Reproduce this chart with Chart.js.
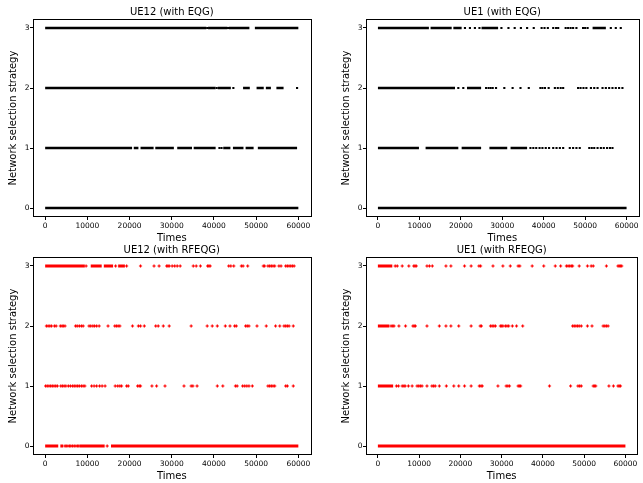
<!DOCTYPE html>
<html>
<head>
<meta charset="utf-8">
<script src="https://cdn.jsdelivr.net/npm/chart.js@4.4.1/dist/chart.umd.min.js"></script>
<style>
  body { margin: 0; background: #fff; overflow: hidden; width: 643px; height: 483px; }
  canvas { position: absolute; }
</style>
</head>
<body>
<canvas id="c1" width="321" height="246" style="left:0;top:0"></canvas>
<canvas id="c2" width="310" height="246" style="left:333px;top:0"></canvas>
<canvas id="c3" width="321" height="246" style="left:0;top:238px"></canvas>
<canvas id="c4" width="310" height="246" style="left:333px;top:238px"></canvas>
<script>
const xTicks = [0, 10000, 20000, 30000, 40000, 50000, 60000];
const yTicks = [0, 1, 2, 3];

// UE12 (with EQG) - dense stretches as [start, end], single points as x
const ue12EqgRuns0 = [[0, 60000]];
const ue12EqgRuns1 = [[0, 20600], [21000, 22100], [22600, 25700], [26100, 30500], [31300, 34800], [35200, 40400], [42200, 43900], [44500, 47000], [47500, 49400], [50400, 59700]];
const ue12EqgRuns2 = [[0, 40400], [40900, 44000], [46900, 48500], [50100, 51800], [52300, 53500], [54800, 56500]];
const ue12EqgRuns3 = [[0, 38200], [38600, 43200], [43500, 48400], [49700, 60000]];
const ue12EqgDots0 = [];
const ue12EqgDots1 = [41300, 41800];
const ue12EqgDots2 = [40650, 44600, 59700];
const ue12EqgDots3 = [38400, 43350];

// UE1 (with EQG)
const ue1EqgRuns0 = [[0, 60000]];
const ue1EqgRuns1 = [[0, 9900], [11500, 19400], [20200, 24900], [26900, 31200], [32000, 36000]];
const ue1EqgRuns2 = [[0, 18600], [21500, 24900]];
const ue1EqgRuns3 = [[0, 12300], [12700, 17800], [18200, 20200], [25000, 29000], [51800, 55000]];
const ue1EqgDots0 = [];
const ue1EqgDots1 = [36800, 37500, 38200, 39000, 39700, 40500, 41300, 42300, 43100, 43900, 44700, 46300, 47100, 47900, 48700, 51000, 51600, 52200, 53000, 53800, 54500, 55300, 56000, 56600];
const ue1EqgDots2 = [19400, 20600, 26100, 26700, 27200, 27700, 28500, 30500, 32500, 34400, 36400, 39200, 39700, 40300, 41200, 42700, 43400, 44100, 44700, 48300, 48900, 49600, 50300, 51400, 52200, 53000, 54200, 55000, 55800, 56600, 57400, 58200, 59000];
const ue1EqgDots3 = [21000, 22200, 23400, 24500, 29800, 31500, 33000, 34500, 36000, 37600, 39500, 40200, 41000, 42300, 43000, 43500, 45300, 45900, 46500, 47100, 47900, 49500, 50000, 50600, 56200, 57400, 58600];

// UE12 (with RFEQG)
const ue12RfeqgRuns0 = [[0, 3100], [3600, 4300], [8200, 14100], [15600, 60000]];
const ue12RfeqgRuns1 = [];
const ue12RfeqgRuns2 = [];
const ue12RfeqgRuns3 = [[0, 9400], [10800, 13400], [13900, 16100], [17300, 18900]];
const ue12RfeqgDots0 = [4700, 5000, 5400, 5800, 6100, 6500, 6900, 7300, 7700, 8000, 14700];
const ue12RfeqgDots1 = [100, 500, 900, 1300, 1700, 2100, 2500, 2900, 3700, 4100, 4500, 4900, 5500, 6000, 6500, 6900, 7300, 7700, 8100, 8600, 9000, 9400, 11000, 11600, 12200, 12900, 13500, 14200, 16600, 17200, 17700, 18100, 19300, 19700, 21900, 22300, 22600, 25300, 26400, 28400, 32900, 34600, 35000, 36000, 40800, 42100, 45100, 45500, 46800, 47300, 47800, 48300, 49100, 52800, 53200, 53600, 54000, 54400, 57000, 57400, 58800];
const ue12RfeqgDots2 = [300, 700, 1100, 1500, 2200, 2600, 3600, 4000, 4300, 4700, 7200, 7600, 8100, 8600, 9000, 10400, 10800, 11300, 11700, 12200, 12800, 14900, 16500, 16900, 17300, 17700, 20700, 22100, 22600, 23500, 26200, 26800, 28000, 29400, 34600, 38400, 39600, 40800, 42700, 43800, 44900, 45300, 47500, 47900, 48300, 50200, 52400, 54600, 55600, 56600, 57000, 57400, 57800, 58800];
const ue12RfeqgDots3 = [9700, 16700, 19300, 22600, 25800, 27000, 28800, 29100, 29400, 30100, 30700, 31300, 32000, 35100, 35800, 36800, 38500, 38800, 39100, 43500, 44000, 44700, 46500, 46900, 48000, 51700, 52000, 52800, 53200, 53600, 54000, 54400, 55400, 55900, 57000, 57400, 57800, 58200, 58600, 59000];

// UE1 (with RFEQG)
const ue1RfeqgRuns0 = [[0, 60000]];
const ue1RfeqgRuns1 = [[0, 3700]];
const ue1RfeqgRuns2 = [[0, 2800]];
const ue1RfeqgRuns3 = [[0, 3500]];
const ue1RfeqgDots0 = [];
const ue1RfeqgDots1 = [4500, 5000, 5900, 6300, 6600, 7400, 8300, 9500, 9900, 10300, 10700, 11900, 13100, 13500, 13900, 14900, 16600, 18400, 19600, 21000, 22600, 24600, 25000, 25300, 29100, 31100, 31500, 31900, 34000, 34300, 34600, 41600, 46700, 48500, 48900, 49300, 52200, 52500, 52800, 56000, 57100, 58200, 58500, 58800];
const ue1RfeqgDots2 = [3200, 3600, 3900, 5100, 6700, 8500, 8800, 9100, 11900, 14900, 16500, 17700, 19600, 22600, 24800, 25100, 27300, 27700, 28100, 28500, 29700, 30000, 30300, 30900, 31300, 31700, 32600, 33600, 35100, 47200, 47600, 48000, 48400, 48800, 49300, 50800, 51900, 54600, 55000, 55400, 55800];
const ue1RfeqgDots3 = [4200, 4700, 5900, 7500, 8700, 9000, 9300, 11900, 12500, 13200, 16500, 17700, 21000, 22600, 24500, 24900, 27900, 30300, 32100, 34000, 34400, 37400, 40200, 43000, 44300, 45700, 46100, 46500, 46900, 47200, 48800, 50800, 51700, 52200, 55400, 58200, 58500, 58800, 59100];

Chart.defaults.font.family = "'DejaVu Sans', sans-serif";
Chart.defaults.color = '#000';

// box round the plot area, like matplotlib axes
const frame = {
    id: 'frame',
    afterDatasetsDraw(chart) {
        const a = chart.chartArea;
        const ctx = chart.ctx;
        ctx.save();
        ctx.strokeStyle = '#000';
        ctx.lineWidth = 1;
        ctx.strokeRect(Math.round(a.left) + 0.5, Math.round(a.top) + 0.5,
            Math.round(a.right - a.left) - 1, Math.round(a.bottom - a.top) - 1);
        ctx.restore();
    }
};

function runPoints(runs, level) {
    const pts = [];
    runs.forEach(r => {
        pts.push({ x: r[0], y: level }, { x: r[1], y: level }, { x: r[1], y: null });
    });
    return pts;
}

function makePanel(id, title, color, allRuns, allDots, rightPad) {
    const red = color !== '#000';
    const datasets = [];
    allRuns.forEach((runs, level) => {
        datasets.push({
            data: runPoints(runs, level),
            showLine: true,
            spanGaps: false,
            borderColor: color,
            borderWidth: red ? 3.2 : 2.6,
            borderCapStyle: 'butt',
            pointRadius: 0
        });
    });
    allDots.forEach((dots, level) => {
        datasets.push({
            data: dots.map(x => ({ x: x, y: level })),
            pointStyle: red ? 'cross' : 'rect',
            pointRadius: red ? 1.6 : 1.5,
            borderWidth: red ? 1.2 : 0,
            borderColor: color,
            backgroundColor: color
        });
    });

    new Chart(document.getElementById(id), {
        type: 'scatter',
        data: { datasets: datasets },
        plugins: [frame],
        options: {
            responsive: false,
            animation: false,
            layout: { padding: { left: 0, right: rightPad, top: 0, bottom: 0 } },
            plugins: {
                legend: { display: false },
                tooltip: { enabled: false },
                title: {
                    display: true,
                    text: title,
                    fullSize: false,
                    font: { size: 10, weight: 'normal' },
                    padding: { top: 6, bottom: 1 }
                }
            },
            scales: {
                x: {
                    type: 'linear',
                    min: -3000,
                    max: 63000,
                    afterBuildTicks: s => { s.ticks = xTicks.map(v => ({ value: v })); },
                    afterFit: s => { s.height = 29; },
                    grid: { drawOnChartArea: false, drawTicks: true, tickLength: 3, color: '#000' },
                    border: { display: false },
                    ticks: { font: { size: 7.5 }, padding: 2, maxRotation: 0, autoSkip: false, callback: v => String(v) },
                    title: { display: true, text: 'Times', font: { size: 10 }, padding: { top: 0, bottom: 2 } }
                },
                y: {
                    type: 'linear',
                    min: -0.15,
                    max: 3.15,
                    afterBuildTicks: s => { s.ticks = yTicks.map(v => ({ value: v })); },
                    afterFit: s => { s.width = 32.5; },
                    grid: { drawOnChartArea: false, drawTicks: true, tickLength: 2.5, color: '#000' },
                    border: { display: false },
                    ticks: { font: { size: 7.5 }, padding: 0.5, callback: v => String(v) },
                    title: { display: true, text: 'Network selection strategy', font: { size: 10 }, padding: { top: 7, bottom: 0 } }
                }
            }
        }
    });
}

makePanel('c1', 'UE12 (with EQG)', '#000',
    [ue12EqgRuns0, ue12EqgRuns1, ue12EqgRuns2, ue12EqgRuns3],
    [ue12EqgDots0, ue12EqgDots1, ue12EqgDots2, ue12EqgDots3], 10);
makePanel('c2', 'UE1 (with EQG)', '#000',
    [ue1EqgRuns0, ue1EqgRuns1, ue1EqgRuns2, ue1EqgRuns3],
    [ue1EqgDots0, ue1EqgDots1, ue1EqgDots2, ue1EqgDots3], 0.5);
makePanel('c3', 'UE12 (with RFEQG)', '#ff0000',
    [ue12RfeqgRuns0, ue12RfeqgRuns1, ue12RfeqgRuns2, ue12RfeqgRuns3],
    [ue12RfeqgDots0, ue12RfeqgDots1, ue12RfeqgDots2, ue12RfeqgDots3], 10);
makePanel('c4', 'UE1 (with RFEQG)', '#ff0000',
    [ue1RfeqgRuns0, ue1RfeqgRuns1, ue1RfeqgRuns2, ue1RfeqgRuns3],
    [ue1RfeqgDots0, ue1RfeqgDots1, ue1RfeqgDots2, ue1RfeqgDots3], 0.5);
</script>
</body>
</html>
